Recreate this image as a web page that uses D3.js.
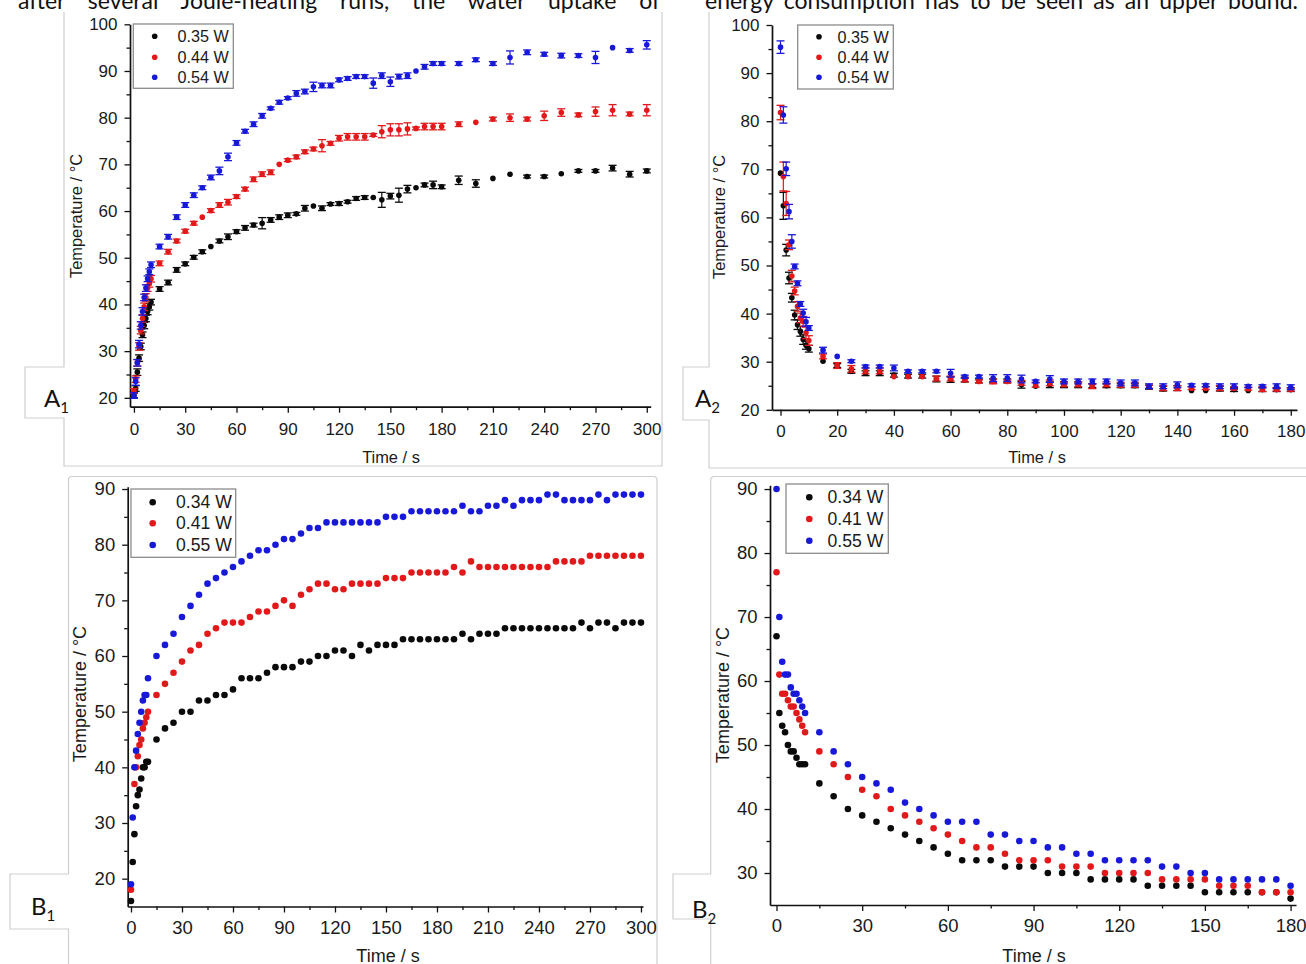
<!DOCTYPE html>
<html>
<head>
<meta charset="utf-8">
<script src="https://cdn.jsdelivr.net/npm/d3@7"></script>
<style>
  body { margin: 0; background: #fff; }
  svg { display: block; }
</style>
</head>
<body>
<svg id="fig" width="1306" height="964"></svg>
<script>
// ---------- Heating (A1) ----------
const timeA1 = [0,1,2,3,4,5,6,7,8,9,10,15,20,25,30,35,40,45,50,55,60,65,70,75,80,85,90,95,100,105,110,115,120,125,130,135,140,145,150,155,160,165,170,175,180,190,200,210,220,230,240,250,260,270,280,290,300];
const a1Low = [20.5,22.0,25.5,28.5,31.0,33.5,35.5,37.0,38.5,39.5,40.5,
  43.3,44.7,47.4,48.7,50.1,51.3,52.4,53.6,54.5,55.6,56.4,57.0,57.4,58.1,58.7,59.1,59.4,60.6,61.1,60.6,61.5,61.6,62.0,62.7,62.9,62.9,62.4,63.2,63.4,64.7,65.0,65.6,65.6,65.2,
  66.6,65.9,67.0,67.9,67.4,67.4,68.0,68.6,68.6,69.2,67.9,68.6];
const a1LowErr = [0.5,0.6,0.7,0.7,0.7,0.6,0.7,0.7,0.7,0.7,0.6,
  0.5,0.5,0.5,0.4,0.4,0.4,0,0.4,0.6,0.4,0.5,0.4,1.2,0.5,0.5,0.5,0.3,0.6,0,0.5,0.3,0.4,0.3,0.4,0.4,0,1.6,0.6,1.5,0.8,0,0.4,0.8,0.4,
  0.9,0.8,0,0,0.3,0.3,0,0.3,0.3,0.6,0.6,0.4];
const a1Mid = [21.5,24.0,27.5,31.0,34.5,37.0,39.5,41.5,43.5,44.5,45.5,
  48.8,51.3,53.6,55.7,57.4,58.7,60.1,61.3,61.9,63.1,64.7,66.8,67.9,68.3,70.0,70.9,71.6,72.7,73.3,74.0,74.5,75.6,75.9,75.9,75.9,76.3,77.0,77.4,77.4,77.6,77.7,78.1,78.1,78.1,
  78.6,79.0,79.7,80.0,79.7,80.4,81.1,80.6,81.3,81.6,80.8,81.6];
const a1MidErr = [0.5,0.7,0.7,0.8,0.8,0.8,0.8,0.8,0.7,0.8,0.7,
  0.5,0.5,0.4,0.4,0.4,0,0.4,0.5,0.6,0.4,0.4,0.5,0.5,0.5,0,0.3,0.4,0.4,0.4,1.3,0.4,0.6,0.7,0.7,0.7,0.3,1.3,1.3,1.3,1.3,0.3,0.7,0.7,0.7,
  0.5,0,0.4,0.8,0.4,1.0,0.8,0.4,1.0,1.2,0.4,1.2];
const a1High = [20.5,23.5,27.5,31.5,35.5,38.5,41.5,43.5,45.5,47.0,48.5,
  52.4,54.5,58.7,61.3,63.4,65.0,67.2,68.6,71.6,74.6,77.1,78.6,80.4,82.0,83.3,84.2,85.2,85.6,86.6,86.9,86.9,88.1,88.4,88.8,88.8,87.4,89.0,87.7,88.8,89.0,90.0,90.9,91.6,91.6,
  91.6,92.4,91.6,92.9,94.0,93.6,93.3,93.3,92.9,95.0,94.4,95.6];
const a1HighErr = [0.6,0.8,0.7,0.8,0.8,0.8,0.7,0.7,0.6,0.6,0.6,
  0.5,0.5,0.5,0.5,0.5,0.4,0.5,0.8,0.8,0.5,0.4,0.5,0.5,0.3,0.4,0.3,0.6,0.5,1.0,0.5,0.5,0.4,0.4,0.4,0.4,1.1,0.6,1.0,0.5,0.6,0,0.5,0.4,0.4,
  0.4,0.4,0.4,1.4,0.5,0.4,0.5,0.4,1.3,0,0.4,0.9];

// ---------- Cooling (A2) ----------
const timeA2 = [0,1,2,3,4,5,6,7,8,9,10,15,20,25,30,35,40,45,50,55,60,65,70,75,80,85,90,95,100,105,110,115,120,125,130,135,140,145,150,155,160,165,170,175,180];
const a2Low = [69.2,62.4,53.2,47.4,43.3,39.7,37.7,36.3,34.6,33.4,32.7,
  30.1,29.2,28.0,27.6,27.6,27.2,27.0,27.0,26.4,26.3,26.2,26.0,26.0,26.0,25.2,24.9,25.2,25.2,25.2,25.0,25.0,25.0,25.0,24.7,24.4,24.5,24.0,24.0,24.4,24.2,24.0,24.2,24.2,24.2];
const a2LowErr = [0,2.8,1.2,1.2,0.9,1.0,1.0,1.0,1.0,0.8,0.7,
  0,0.4,0.4,0.5,0.5,0.4,0.4,0.4,0.6,0.6,0.4,0.4,0.4,0.4,0.7,0,0.6,0.6,0.6,0.4,0.4,0.4,0.4,0.4,0.5,0.5,0,0,0.5,0.4,0,0.4,0.4,0.4];
const a2Mid = [81.8,68.5,62.9,54.3,47.8,44.7,41.5,39.1,38.4,36.0,34.4,
  31.1,29.2,28.5,28.1,28.1,26.9,26.9,26.9,26.5,26.5,26.3,25.9,25.9,25.9,25.6,25.2,25.6,25.3,25.3,24.9,25.3,25.2,25.2,24.8,24.5,24.5,24.5,24.5,24.5,24.5,24.4,24.3,24.2,24.2];
const a2MidErr = [1.5,3.0,2.5,1.0,1.2,0.8,1.0,1.0,1.0,1.2,1.0,
  0.5,0.6,0.7,0.6,0.6,0,0,0,0.5,0.5,0.5,0.3,0.5,0.3,0.5,0.5,0.6,0.5,0.5,0.5,0.5,0.5,0.5,0.3,0.5,0.5,0.3,0.3,0.5,0.3,0.3,0.5,0.3,0.3];
const a2High = [95.4,81.3,70.1,61.2,55.0,49.8,46.3,42.0,40.1,38.3,37.0,
  32.4,31.1,30.1,29.0,29.0,28.7,28.0,28.0,28.0,27.6,26.9,26.9,26.6,26.6,26.4,25.9,26.4,25.9,25.9,25.9,25.9,25.6,25.6,24.9,24.9,25.2,25.1,25.1,24.9,24.9,24.9,24.9,24.9,24.7];
const a2HighErr = [1.3,1.7,1.4,1.5,1.4,0.5,0.5,0.5,0.8,0.9,0.5,
  0.6,0,0.3,0.3,0.3,0.6,0.3,0.3,0.3,0.8,0.3,0.3,0.7,0.7,0.8,0.3,0.7,0.5,0.5,0.5,0.5,0.6,0.6,0.5,0.5,0.6,0.3,0.3,0.5,0.5,0.3,0.3,0.5,0.5];

// ---------- Heating (B1) ----------
const timeB1 = [0,1,2,3,4,5,6,7,8,9,10,15,20,25,30,35,40,45,50,55,60,65,70,75,80,85,90,95,100,105,110,115,120,125,130,135,140,145,150,155,160,165,170,175,180,185,190,195,200,205,210,215,220,225,230,235,240,245,250,255,260,265,270,275,280,285,290,295,300];
const b1Low = [16,23,28,33,35,36,38,40,40,41,41,
  45,47,48,50,50,52,52,53,53,54,
  56,56,56,57,58,58,58,59,59,60,
  60,61,61,60,62,61,62,62,62,63,
  63,63,63,63,63,63,64,63,64,64,
  64,65,65,65,65,65,65,65,65,65,
  66,65,66,66,65,66,66,66];
const b1Mid = [18,null,37,40,42,44,45,47,48,49,50,
  53,55,57,59,61,62,64,65,66,66,
  66,67,68,68,69,70,69,71,72,73,
  73,72,72,73,73,73,73,74,74,74,
  75,75,75,75,75,76,75,77,76,76,
  76,76,76,76,76,76,76,77,77,77,
  77,78,78,78,78,78,78,78];
const b1High = [19,31,40,43,46,48,50,52,53,53,56,
  60,62,64,67,69,71,73,74,75,76,
  77,78,79,79,80,81,81,82,83,83,
  84,84,84,84,84,84,84,85,85,85,
  86,86,86,86,86,86,87,86,86,87,
  87,88,87,88,88,88,89,89,88,88,
  88,88,89,88,89,89,89,89];

// ---------- Cooling (B2) ----------
const timeB2 = [0,1,2,3,4,5,6,7,8,9,10,15,20,25,30,35,40,45,50,55,60,65,70,75,80,85,90,95,100,105,110,115,120,125,130,135,140,145,150,155,160,165,170,175,180];
const b2Low = [67,55,53,52,50,49,49,48,47,47,47,
  44,42,40,39,38,37,36,35,34,33,32,32,32,31,31,31,30,30,30,29,29,29,29,28,28,28,28,27,27,27,27,27,27,26];
const b2Mid = [77,61,58,58,57,56,56,55,54,53,52,
  49,47,45,43,42,40,39,38,37,36,35,34,34,33,32,32,32,31,31,31,30,30,30,30,29,29,29,29,28,28,28,27,27,27];
const b2High = [90,70,63,61,61,59,58,58,57,56,55,
  52,49,47,45,44,43,41,40,39,38,38,38,36,36,35,35,34,34,33,33,32,32,32,32,31,31,30,30,29,29,29,29,29,28];

// ---------- Labels and ticks ----------
const legendA = ["0.35 W", "0.44 W", "0.54 W"];
const legendB = ["0.34 W", "0.41 W", "0.55 W"];
const ticksHeatX = [0,30,60,90,120,150,180,210,240,270,300];
const ticksA2X = [0,20,40,60,80,100,120,140,160,180];
const ticksB2X = [0,30,60,90,120,150,180];
const ticksAY = [20,30,40,50,60,70,80,90,100];
const ticksB1Y = [20,30,40,50,60,70,80,90];
const ticksB2Y = [30,40,50,60,70,80,90];
const xTitle = "Time / s";
const yTitle = "Temperature / °C";
const colors = ["#0a0a0a", "#e2191b", "#1818d8"];
const textLeft = "after several Joule-heating runs, the water uptake of";
const textRight = "energy consumption has to be seen as an upper bound.";

const FONT = "'Liberation Sans', Arial, Helvetica, sans-serif";
const svg = d3.select("#fig");

// running text of the page above the figure (two justified column lines)
const bodyText = svg.append("g")
  .attr("font-family", "Lato, 'Open Sans', sans-serif")
  .attr("fill", "#111");
const probe = bodyText.append("text").attr("font-size", 21).text(textRight);
const bodySize = Math.min(23, 21 * 593 / probe.node().getComputedTextLength());
probe.remove();
bodyText.attr("font-size", bodySize);
function justifyLine(str, x0, x1, baseline) {
  const t = bodyText.append("text").attr("x", x0).attr("y", baseline).text(str);
  const natural = t.node().getComputedTextLength();
  const gaps = str.split(" ").length - 1;
  t.attr("word-spacing", Math.max(0, (x1 - x0 - natural) / gaps));
}
justifyLine(textLeft, 18, 660, 8.5);
justifyLine(textRight, 705, 1298, 8.5);

// thin grey panel outlines, each with a notch for the panel letter
const frames = [
  "M64,12 V367 H25 V418 H64 V466 H662 V12",
  "M709,12 V367 H683 V420 H709 V468 H1306",
  "M657,964 V480 Q657,476.5 653,476.5 H72 Q68.5,476.5 68.5,480 V874 H10 V929 H68.5 V964",
  "M1306,476.5 H715 Q710.7,476.5 710.7,480 V874 H673 V919 H710.7 V964"
];
svg.append("g").selectAll("path").data(frames).join("path")
  .attr("d", d => d).attr("fill", "none")
  .attr("stroke", "#cfcfcf").attr("stroke-width", 1.2);

const mids = arr => arr.slice(1).map((v, i) => (v + arr[i]) / 2);

function drawPanel(p) {
  const g = svg.append("g").attr("font-family", FONT);
  const x = d3.scaleLinear().domain(p.xDomain).range(p.xRange);
  const y = d3.scaleLinear().domain(p.yDomain).range(p.yRange);
  const axisY = p.yRange[0], axisX = p.xRange[0];

  // minor ticks
  g.append("g").attr("transform", `translate(0,${axisY})`)
    .call(d3.axisBottom(x).tickValues(mids(p.xTicks)).tickSize(3.5).tickFormat(""))
    .call(s => s.select(".domain").remove());
  g.append("g").attr("transform", `translate(${axisX},0)`)
    .call(d3.axisLeft(y).tickValues(mids(p.yTicks)).tickSize(3.5).tickFormat(""))
    .call(s => s.select(".domain").remove());

  // major axes
  const gx = g.append("g").attr("transform", `translate(0,${axisY})`)
    .call(d3.axisBottom(x).tickValues(p.xTicks).tickSize(6).tickSizeOuter(0).tickPadding(p.xPad));
  const gy = g.append("g").attr("transform", `translate(${axisX},0)`)
    .call(d3.axisLeft(y).tickValues(p.yTicks).tickSize(5.5).tickSizeOuter(0).tickPadding(p.yPad));
  [gx, gy].forEach(a => {
    a.attr("font-family", FONT).attr("font-size", p.tickFont);
    a.selectAll("text").attr("fill", "#1a1a1a");
    a.select(".domain").attr("stroke", "#111").attr("stroke-width", 1.7);
  });
  g.selectAll(".tick line").attr("stroke", "#111").attr("stroke-width", 1.3);

  // axis titles
  g.append("text").attr("x", p.xTitlePos[0]).attr("y", p.xTitlePos[1])
    .attr("text-anchor", "middle").attr("dominant-baseline", "central")
    .attr("font-size", p.titleFont).attr("fill", "#1a1a1a").text(xTitle);
  g.append("text")
    .attr("transform", `translate(${p.yTitlePos[0]},${p.yTitlePos[1]}) rotate(-90)`)
    .attr("text-anchor", "middle").attr("dominant-baseline", "central")
    .attr("font-size", p.titleFont).attr("fill", "#1a1a1a").text(yTitle);

  // series: error bars under the dots, black first, blue on top
  p.series.forEach((vals, si) => {
    const errs = p.errors ? p.errors[si] : null;
    const pts = p.time.map((t, j) => ({ t, v: vals[j], e: errs ? errs[j] : 0 }))
      .filter(d => d.v != null);
    const sg = g.append("g").attr("fill", colors[si]).attr("stroke", colors[si]);
    const eb = pts.filter(d => d.e > 0);
    sg.selectAll("line.bar").data(eb).join("line").attr("class", "bar")
      .attr("x1", d => x(d.t)).attr("x2", d => x(d.t))
      .attr("y1", d => y(d.v - d.e)).attr("y2", d => y(d.v + d.e))
      .attr("stroke-width", 1.2);
    [-1, 1].forEach(s => {
      sg.selectAll(`line.cap${s}`).data(eb).join("line").attr("class", `cap${s}`)
        .attr("x1", d => x(d.t) - 4).attr("x2", d => x(d.t) + 4)
        .attr("y1", d => y(d.v + s * d.e)).attr("y2", d => y(d.v + s * d.e))
        .attr("stroke-width", 1.3);
    });
    sg.selectAll("circle").data(pts).join("circle")
      .attr("cx", d => x(d.t)).attr("cy", d => y(d.v)).attr("r", p.r)
      .attr("stroke", "none");
  });

  // legend
  const L = p.legend;
  const lg = g.append("g");
  lg.append("rect").attr("x", L.box[0]).attr("y", L.box[1])
    .attr("width", L.box[2]).attr("height", L.box[3])
    .attr("fill", "#fff").attr("stroke", "#8c8c8c").attr("stroke-width", 1.3);
  L.labels.forEach((lab, i) => {
    lg.append("circle").attr("cx", L.markX).attr("cy", L.rows[i]).attr("r", p.r)
      .attr("fill", colors[i]);
    lg.append("text").attr("x", L.textX).attr("y", L.rows[i])
      .attr("dominant-baseline", "central").attr("font-size", L.font)
      .attr("fill", "#1a1a1a").text(lab);
  });

  // panel letter with subscript
  const pl = svg.append("text").attr("x", p.tag.x).attr("y", p.tag.y)
    .attr("font-family", "Lato, 'Open Sans', sans-serif").attr("font-size", 24)
    .attr("fill", "#111");
  pl.append("tspan").text(p.tag.letter);
  pl.append("tspan").attr("font-size", 15).attr("dy", 6).text(p.tag.sub);
}

drawPanel({
  xDomain: [-2.3, 302.3], xRange: [130, 650.7],
  yDomain: [18.1, 100], yRange: [406.7, 24.3],
  xTicks: ticksHeatX, yTicks: ticksAY, xPad: 10, yPad: 7,
  tickFont: 17, titleFont: 16.4,
  xTitlePos: [391, 456.5], yTitlePos: [76, 216],
  time: timeA1, series: [a1Low, a1Mid, a1High], errors: [a1LowErr, a1MidErr, a1HighErr],
  r: 2.8,
  legend: { box: [133.3, 24, 100, 64.3], markX: 154.7, textX: 177.5,
            rows: [36.3, 57.3, 77.3], font: 16.2, labels: legendA },
  tag: { x: 44, y: 407, letter: "A", sub: "1" }
});

drawPanel({
  xDomain: [-3, 182.2], xRange: [772, 1297],
  yDomain: [20, 100], yRange: [409.8, 25],
  xTicks: ticksA2X, yTicks: ticksAY, xPad: 9, yPad: 7,
  tickFont: 17, titleFont: 16.4,
  xTitlePos: [1037, 457], yTitlePos: [719, 217],
  time: timeA2, series: [a2Low, a2Mid, a2High], errors: [a2LowErr, a2MidErr, a2HighErr],
  r: 2.8,
  legend: { box: [797.7, 25, 95.6, 64], markX: 819, textX: 837.5,
            rows: [36.7, 57.3, 77.3], font: 16.2, labels: legendA },
  tag: { x: 695, y: 407, letter: "A", sub: "2" }
});

drawPanel({
  xDomain: [-1.94, 301.2], xRange: [127.7, 643],
  yDomain: [15, 90.4], yRange: [906.5, 486.8],
  xTicks: ticksHeatX, yTicks: ticksB1Y, xPad: 8, yPad: 7,
  tickFont: 18.5, titleFont: 18,
  xTitlePos: [388, 955.5], yTitlePos: [80, 694],
  time: timeB1, series: [b1Low, b1Mid, b1High], errors: null,
  r: 3.3,
  legend: { box: [131, 489, 104.7, 68.3], markX: 152.7, textX: 176,
            rows: [502.3, 523.3, 545], font: 17.6, labels: legendB },
  tag: { x: 31, y: 915, letter: "B", sub: "1" }
});

drawPanel({
  xDomain: [-2.28, 181.9], xRange: [770, 1296],
  yDomain: [25, 90.6], yRange: [905, 485.2],
  xTicks: ticksB2X, yTicks: ticksB2Y, xPad: 8, yPad: 7,
  tickFont: 18.5, titleFont: 18,
  xTitlePos: [1034, 955.5], yTitlePos: [723, 695],
  time: timeB2, series: [b2Low, b2Mid, b2High], errors: null,
  r: 3.3,
  legend: { box: [786, 484, 102.3, 69.3], markX: 809.3, textX: 827.5,
            rows: [497.3, 519, 540.7], font: 17.6, labels: legendB },
  tag: { x: 692, y: 918, letter: "B", sub: "2" }
});
</script>
</body>
</html>
